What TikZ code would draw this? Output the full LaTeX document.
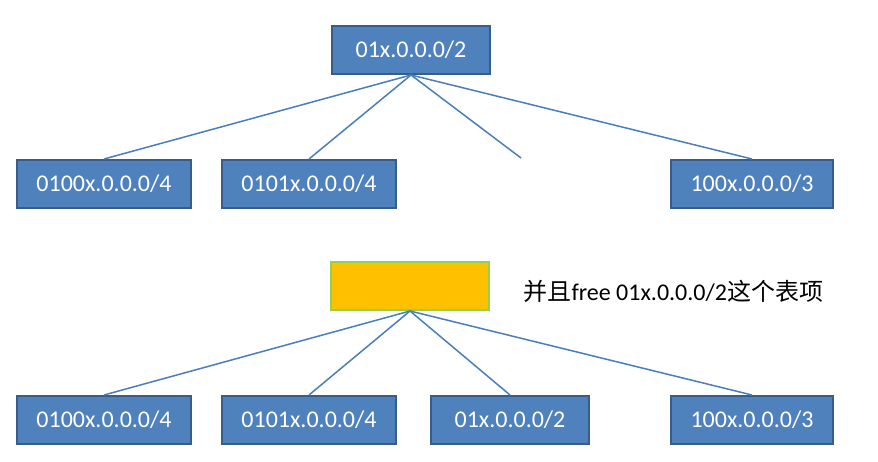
\documentclass[tikz,border=0pt]{standalone}
\usepackage{fontspec}
\setmainfont{Carlito}
\newfontfamily\cjk{Noto Sans CJK SC}
\definecolor{boxfill}{HTML}{4F81BD}
\definecolor{boxedge}{HTML}{385D8A}
\definecolor{linkcol}{HTML}{4A7EBB}
\definecolor{orangefill}{HTML}{FFC000}
\definecolor{greenedge}{HTML}{92D050}
\begin{document}
\begin{tikzpicture}[x=1pt,y=-1pt,
  bluebox/.style={draw=boxedge,fill=boxfill,line width=2pt,text=white,inner sep=0pt,
    minimum height=48pt,font=\fontsize{24pt}{28pt}\selectfont},
  orangebox/.style={draw=greenedge,fill=orangefill,line width=2pt,inner sep=0pt,
    minimum height=48pt,minimum width=158pt},
  link/.style={draw=linkcol,line width=1.5pt}]
\useasboundingbox (0,0) rectangle (878,462);
% top tree
\node[bluebox,minimum width=158pt] (top) at (411,50) {01x.0.0.0/2};
\node[bluebox,minimum width=174pt] (a1) at (104,184) {0100x.0.0.0/4};
\node[bluebox,minimum width=174pt] (a2) at (309,184) {0101x.0.0.0/4};
\node[bluebox,minimum width=162pt] (a4) at (752,184) {100x.0.0.0/3};
\coordinate (a3) at (521,158);
\draw[link] (top.south) -- (a1.north);
\draw[link] (top.south) -- (a2.north);
\draw[link] (top.south) -- (a3);
\draw[link] (top.south) -- (a4.north);
% bottom tree
\node[orangebox] (mid) at (410,286) {};
\node[anchor=west,font=\fontsize{24pt}{28pt}\selectfont] (note) at (520,291) {{\cjk 并且}free 01x.0.0.0/2{\cjk 这个表项}};
\node[bluebox,minimum width=174pt] (b1) at (104,420) {0100x.0.0.0/4};
\node[bluebox,minimum width=174pt] (b2) at (309,420) {0101x.0.0.0/4};
\node[bluebox,minimum width=158pt] (b3) at (510,420) {01x.0.0.0/2};
\node[bluebox,minimum width=162pt] (b4) at (752,420) {100x.0.0.0/3};
\draw[link] (mid.south) -- (b1.north);
\draw[link] (mid.south) -- (b2.north);
\draw[link] (mid.south) -- (b3.north);
\draw[link] (mid.south) -- (b4.north);
\end{tikzpicture}
\end{document}
